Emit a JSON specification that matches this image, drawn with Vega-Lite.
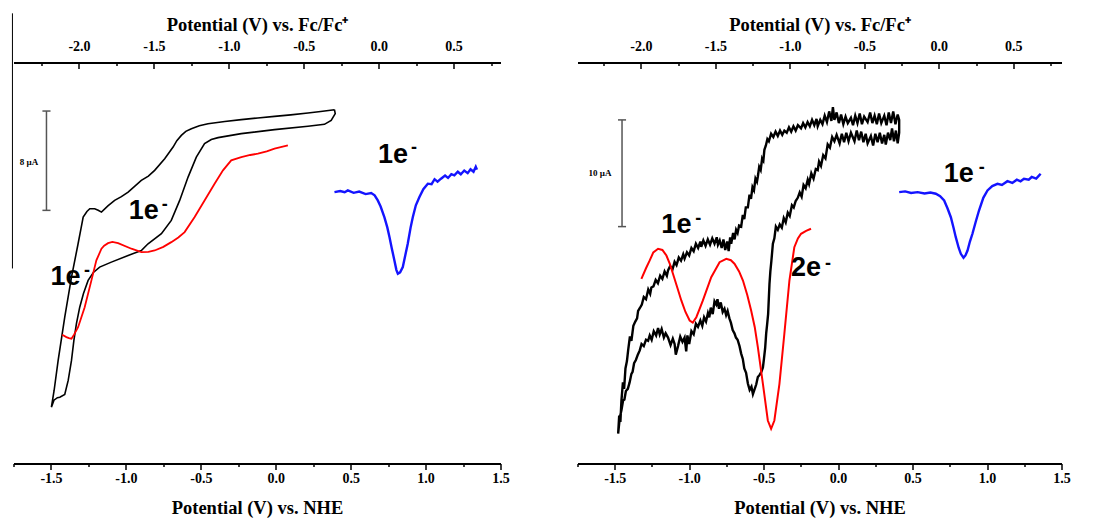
{
 "$schema": "https://vega.github.io/schema/vega-lite/v6.json",
 "padding": {"left": 10.5, "top": 12.5, "right": 5, "bottom": 0},
 "background": "white",
 "spacing": 77,
 "bounds": "flush",
 "config": {
  "view": {"stroke": null},
  "axis": {"grid": false, "domainColor": "#000", "domainWidth": 2, "tickColor": "#000", "tickWidth": 1.5, "labelFont": "Liberation Serif", "labelFontWeight": "bold", "labelFontSize": 14, "labelColor": "#000", "titleFont": "Liberation Serif", "titleFontWeight": "bold", "titleFontSize": 18.5, "titleColor": "#000", "labelFlush": false, "labelOverlap": false}
 },
 "datasets": {
  "nheMaj": [{"t": -1.5}, {"t": 1.5}],
  "nheMin": [{"t": -1.75}, {"t": 1.25}],
  "fcMaj": [{"t": -2.0}, {"t": 0.5}],
  "fcMin": [{"t": -2.25}, {"t": 0.75}],
  "vlineL": [{"v": -1.757, "i": 15.71, "i2": 36.26}],
  "barL": [{"v": -1.53, "v2": -1.53, "i": 20.39, "i2": 28.39}, {"v": -1.557, "v2": -1.503, "i": 20.39, "i2": 20.39}, {"v": -1.557, "v2": -1.503, "i": 28.39, "i2": 28.39}],
  "barTxtL": [{"v": -1.647, "i": 24.25, "t": "8 µA"}],
  "barR": [{"v": -1.451, "v2": -1.451, "i": 22.2, "i2": 32.2}, {"v": -1.478, "v2": -1.424, "i": 22.2, "i2": 22.2}, {"v": -1.478, "v2": -1.424, "i": 32.2, "i2": 32.2}],
  "barTxtR": [{"v": -1.599, "i": 27.27, "t": "10 µA"}],
  "annL": [{"v": -0.88, "i": 20.31, "t": "1e"}, {"v": -1.403, "i": 14.99, "t": "1e"}, {"v": 0.783, "i": 24.82, "t": "1e"}],
  "supL": [{"v": -0.74, "i": 20.79, "t": "-"}, {"v": -1.26, "i": 15.47, "t": "-"}, {"v": 0.923, "i": 25.38, "t": "-"}],
  "annR": [{"v": -1.086, "i": 22.31, "t": "1e"}, {"v": -0.215, "i": 18.28, "t": "2e"}, {"v": 0.81, "i": 27.09, "t": "1e"}],
  "supR": [{"v": -0.939, "i": 22.96, "t": "-"}, {"v": -0.068, "i": 18.74, "t": "-"}, {"v": 0.964, "i": 27.65, "t": "-"}],
  "cvL": [
   {"v":0.392,"i":28.50},{"v":0.30,"i":28.35},{"v":0.215,"i":28.23},{"v":0.10,"i":28.08},{"v":-0.008,"i":27.96},{"v":-0.12,"i":27.83},{"v":-0.23,"i":27.70},{"v":-0.34,"i":27.55},{"v":-0.452,"i":27.37},{"v":-0.51,"i":27.2},{"v":-0.563,"i":26.97},{"v":-0.60,"i":26.75},{"v":-0.63,"i":26.43},{"v":-0.66,"i":26.0},{"v":-0.685,"i":25.49},{"v":-0.741,"i":24.55},{"v":-0.808,"i":23.61},{"v":-0.85,"i":23.15},{"v":-0.897,"i":22.80},{"v":-0.94,"i":22.35},{"v":-0.985,"i":21.86},{"v":-1.03,"i":21.5},{"v":-1.075,"i":21.19},{"v":-1.12,"i":20.75},{"v":-1.163,"i":20.25},{"v":-1.185,"i":20.4},{"v":-1.208,"i":20.52},{"v":-1.241,"i":20.52},{"v":-1.26,"i":20.3},{"v":-1.285,"i":19.85},{"v":-1.30,"i":18.9},{"v":-1.319,"i":17.70},{"v":-1.363,"i":15.01},{"v":-1.408,"i":11.79},{"v":-1.452,"i":8.30},{"v":-1.479,"i":5.88},{"v":-1.497,"i":4.54},
   {"v":-1.48,"i":5.1},{"v":-1.457,"i":5.3},{"v":-1.441,"i":5.34},{"v":-1.408,"i":5.56},{"v":-1.385,"i":6.69},{"v":-1.363,"i":8.30},{"v":-1.347,"i":9.91},{"v":-1.33,"i":11.26},{"v":-1.308,"i":12.59},{"v":-1.283,"i":13.70},{"v":-1.252,"i":14.75},{"v":-1.217,"i":15.39},{"v":-1.175,"i":15.82},{"v":-1.097,"i":16.22},{"v":-0.985,"i":16.76},{"v":-0.897,"i":17.16},{"v":-0.852,"i":17.70},{"v":-0.763,"i":18.51},{"v":-0.697,"i":19.58},{"v":-0.641,"i":21.19},{"v":-0.585,"i":23.07},{"v":-0.53,"i":24.68},{"v":-0.475,"i":25.76},{"v":-0.43,"i":26.1},{"v":-0.385,"i":26.25},{"v":-0.23,"i":26.57},{"v":-0.008,"i":26.89},{"v":0.215,"i":27.16},{"v":0.325,"i":27.32},{"v":0.37,"i":27.64},{"v":0.397,"i":28.18},{"v":0.392,"i":28.50}
  ],
  "redL": [
   {"v":0.081,"i":25.62},{"v":0.04,"i":25.5},{"v":-0.008,"i":25.36},{"v":-0.06,"i":25.15},{"v":-0.119,"i":24.96},{"v":-0.17,"i":24.85},{"v":-0.23,"i":24.68},{"v":-0.297,"i":24.42},{"v":-0.352,"i":23.61},{"v":-0.408,"i":22.54},{"v":-0.475,"i":21.19},{"v":-0.541,"i":19.85},{"v":-0.608,"i":18.64},{"v":-0.65,"i":18.2},{"v":-0.697,"i":17.83},{"v":-0.75,"i":17.45},{"v":-0.808,"i":17.16},{"v":-0.85,"i":17.05},{"v":-0.897,"i":17.03},{"v":-0.963,"i":17.30},{"v":-1.052,"i":17.75},{"v":-1.09,"i":17.85},{"v":-1.119,"i":17.75},{"v":-1.145,"i":17.55},{"v":-1.163,"i":17.30},{"v":-1.197,"i":16.36},{"v":-1.23,"i":14.75},{"v":-1.275,"i":12.59},{"v":-1.319,"i":10.98},{"v":-1.345,"i":10.4},{"v":-1.363,"i":10.05},{"v":-1.38,"i":10.1},{"v":-1.397,"i":10.18},{"v":-1.425,"i":10.37}
  ],
  "blueL": [
   {"v":0.392,"i":21.86},{"v":0.43,"i":21.95},{"v":0.46,"i":21.85},{"v":0.481,"i":22.0},{"v":0.52,"i":21.8},{"v":0.557,"i":21.9},{"v":0.60,"i":21.7},{"v":0.637,"i":21.78},{"v":0.66,"i":21.6},{"v":0.681,"i":21.19},{"v":0.70,"i":20.7},{"v":0.725,"i":19.85},{"v":0.745,"i":19.0},{"v":0.759,"i":18.24},{"v":0.775,"i":17.3},{"v":0.792,"i":16.36},{"v":0.805,"i":15.6},{"v":0.815,"i":15.29},{"v":0.83,"i":15.4},{"v":0.848,"i":15.82},{"v":0.865,"i":16.8},{"v":0.881,"i":17.70},{"v":0.90,"i":19.0},{"v":0.915,"i":19.85},{"v":0.935,"i":20.8},{"v":0.959,"i":21.46},{"v":0.985,"i":22.1},{"v":1.015,"i":22.54},{"v":1.04,"i":22.5},{"v":1.06,"i":22.9},{"v":1.08,"i":22.7},{"v":1.103,"i":22.94},{"v":1.13,"i":23.2},{"v":1.15,"i":23.0},{"v":1.172,"i":23.3},{"v":1.192,"i":23.21},{"v":1.215,"i":23.5},{"v":1.235,"i":23.3},{"v":1.258,"i":23.6},{"v":1.281,"i":23.39},{"v":1.30,"i":23.7},{"v":1.32,"i":23.5},{"v":1.335,"i":23.9},{"v":1.343,"i":23.67}
  ],
  "cvR": [
   {"v":-1.477,"i":2.8},{"v":-1.470,"i":4.5},{"v":-1.462,"i":3.9},{"v":-1.455,"i":5.9},{"v":-1.445,"i":7.6},{"v":-1.437,"i":7.0},{"v":-1.428,"i":8.9},{"v":-1.418,"i":9.6},{"v":-1.41,"i":10.6},{"v":-1.398,"i":11.9},{"v":-1.388,"i":11.5},{"v":-1.375,"i":12.9},{"v":-1.362,"i":13.3},{"v":-1.350,"i":13.6},{"v":-1.343,"i":14.3},{"v":-1.330,"i":14.6},{"v":-1.318,"i":14.9},{"v":-1.305,"i":15.6},{"v":-1.290,"i":15.4},{"v":-1.275,"i":16.3},{"v":-1.262,"i":15.9},{"v":-1.254,"i":16.5},{"v":-1.240,"i":16.6},{"v":-1.225,"i":17.2},{"v":-1.210,"i":16.9},{"v":-1.195,"i":17.6},{"v":-1.180,"i":17.3},{"v":-1.165,"i":18.0},{"v":-1.150,"i":17.6},{"v":-1.142,"i":18.1},{"v":-1.128,"i":18.5},{"v":-1.112,"i":18.2},{"v":-1.098,"i":18.9},{"v":-1.085,"i":18.6},{"v":-1.070,"i":19.3},{"v":-1.055,"i":19.0},{"v":-1.040,"i":19.6},{"v":-1.031,"i":19.2},{"v":-1.015,"i":19.8},{"v":-1.000,"i":19.5},{"v":-0.985,"i":20.2},{"v":-0.970,"i":19.9},{"v":-0.955,"i":20.6},{"v":-0.940,"i":20.2},{"v":-0.925,"i":20.8},{"v":-0.919,"i":20.3},{"v":-0.905,"i":20.9},{"v":-0.890,"i":20.4},{"v":-0.875,"i":21.0},{"v":-0.860,"i":20.5},{"v":-0.845,"i":21.1},{"v":-0.830,"i":20.6},{"v":-0.815,"i":21.2},{"v":-0.807,"i":20.5},{"v":-0.795,"i":20.9},{"v":-0.782,"i":20.2},{"v":-0.770,"i":21.0},{"v":-0.758,"i":20.0},{"v":-0.745,"i":20.8},{"v":-0.735,"i":19.9},{"v":-0.725,"i":21.2},{"v":-0.718,"i":20.6},{"v":-0.705,"i":21.6},{"v":-0.695,"i":21.0},{"v":-0.685,"i":21.9},{"v":-0.675,"i":21.6},{"v":-0.665,"i":22.3},{"v":-0.651,"i":22.2},{"v":-0.640,"i":23.3},{"v":-0.630,"i":22.9},{"v":-0.620,"i":24.0},{"v":-0.606,"i":24.0},{"v":-0.595,"i":25.2},{"v":-0.585,"i":24.8},{"v":-0.575,"i":25.9},{"v":-0.565,"i":25.6},{"v":-0.555,"i":26.7},{"v":-0.545,"i":26.4},{"v":-0.539,"i":26.9},{"v":-0.530,"i":27.8},{"v":-0.520,"i":27.5},{"v":-0.510,"i":28.6},{"v":-0.502,"i":28.4},{"v":-0.495,"i":29.4},{"v":-0.485,"i":29.8},{"v":-0.475,"i":30.4},{"v":-0.465,"i":30.2},{"v":-0.450,"i":30.9},{"v":-0.435,"i":30.6},{"v":-0.420,"i":31.1},{"v":-0.405,"i":30.7},{"v":-0.390,"i":31.2},{"v":-0.375,"i":30.8},{"v":-0.361,"i":31.2},{"v":-0.345,"i":31.0},{"v":-0.330,"i":31.5},{"v":-0.315,"i":31.1},{"v":-0.300,"i":31.6},{"v":-0.285,"i":31.2},{"v":-0.270,"i":31.7},{"v":-0.249,"i":31.4},{"v":-0.235,"i":31.9},{"v":-0.220,"i":31.5},{"v":-0.205,"i":32.0},{"v":-0.190,"i":31.6},{"v":-0.175,"i":32.2},{"v":-0.160,"i":31.7},{"v":-0.145,"i":32.3},{"v":-0.137,"i":31.6},{"v":-0.120,"i":32.2},{"v":-0.105,"i":31.8},{"v":-0.090,"i":32.6},{"v":-0.075,"i":32.0},{"v":-0.060,"i":33.0},{"v":-0.045,"i":32.1},{"v":-0.035,"i":33.4},{"v":-0.025,"i":32.2},{"v":-0.010,"i":32.9},{"v":0.005,"i":31.9},{"v":0.020,"i":32.7},{"v":0.035,"i":31.8},{"v":0.050,"i":32.5},{"v":0.065,"i":31.9},{"v":0.086,"i":32.4},{"v":0.100,"i":31.7},{"v":0.115,"i":32.6},{"v":0.130,"i":31.9},{"v":0.145,"i":32.8},{"v":0.160,"i":31.8},{"v":0.175,"i":32.5},{"v":0.198,"i":32.0},{"v":0.215,"i":32.9},{"v":0.230,"i":31.9},{"v":0.245,"i":32.6},{"v":0.260,"i":31.8},{"v":0.275,"i":32.8},{"v":0.290,"i":31.9},{"v":0.310,"i":32.6},{"v":0.325,"i":31.7},{"v":0.340,"i":32.9},{"v":0.355,"i":31.9},{"v":0.370,"i":33.0},{"v":0.385,"i":31.8},{"v":0.400,"i":32.7},{"v":0.410,"i":32.2},
   {"v":0.41,"i":31.0},{"v":0.400,"i":30.0},{"v":0.388,"i":31.2},{"v":0.375,"i":30.2},{"v":0.362,"i":31.4},{"v":0.350,"i":30.3},{"v":0.335,"i":31.0},{"v":0.320,"i":29.9},{"v":0.310,"i":30.8},{"v":0.295,"i":30.0},{"v":0.280,"i":31.0},{"v":0.265,"i":30.1},{"v":0.250,"i":30.9},{"v":0.235,"i":29.8},{"v":0.220,"i":30.7},{"v":0.198,"i":30.0},{"v":0.185,"i":30.9},{"v":0.170,"i":30.1},{"v":0.155,"i":31.1},{"v":0.140,"i":30.3},{"v":0.125,"i":31.2},{"v":0.110,"i":30.2},{"v":0.086,"i":31.0},{"v":0.070,"i":30.2},{"v":0.055,"i":31.0},{"v":0.040,"i":30.1},{"v":0.025,"i":30.9},{"v":0.010,"i":30.0},{"v":-0.010,"i":30.8},{"v":-0.025,"i":30.2},{"v":-0.040,"i":30.6},{"v":-0.055,"i":29.6},{"v":-0.070,"i":29.9},{"v":-0.085,"i":28.6},{"v":-0.100,"i":28.9},{"v":-0.115,"i":27.9},{"v":-0.128,"i":28.3},{"v":-0.137,"i":27.5},{"v":-0.150,"i":27.6},{"v":-0.165,"i":26.7},{"v":-0.180,"i":27.2},{"v":-0.195,"i":26.2},{"v":-0.204,"i":26.6},{"v":-0.218,"i":25.8},{"v":-0.232,"i":26.1},{"v":-0.245,"i":25.0},{"v":-0.258,"i":25.4},{"v":-0.271,"i":24.9},{"v":-0.285,"i":24.6},{"v":-0.298,"i":24.0},{"v":-0.310,"i":24.2},{"v":-0.325,"i":23.2},{"v":-0.338,"i":23.5},{"v":-0.352,"i":22.6},{"v":-0.365,"i":23.0},{"v":-0.378,"i":22.1},{"v":-0.392,"i":22.4},{"v":-0.405,"i":21.9},{"v":-0.418,"i":22.2},{"v":-0.428,"i":21.1},{"v":-0.438,"i":20.6},{"v":-0.448,"i":19.0},{"v":-0.455,"i":18.0},{"v":-0.461,"i":16.8},{"v":-0.470,"i":14.0},{"v":-0.477,"i":13.0},{"v":-0.483,"i":12.2},{"v":-0.490,"i":10.8},{"v":-0.498,"i":9.8},{"v":-0.505,"i":9.0},{"v":-0.515,"i":8.6},{"v":-0.527,"i":8.3},{"v":-0.539,"i":8.1},{"v":-0.550,"i":7.4},{"v":-0.560,"i":7.0},{"v":-0.572,"i":6.5},{"v":-0.582,"i":7.2},{"v":-0.594,"i":6.9},{"v":-0.606,"i":7.5},{"v":-0.618,"i":8.5},{"v":-0.630,"i":8.9},{"v":-0.640,"i":9.8},{"v":-0.651,"i":10.3},{"v":-0.662,"i":11.0},{"v":-0.675,"i":11.6},{"v":-0.686,"i":11.8},{"v":-0.696,"i":12.2},{"v":-0.708,"i":12.5},{"v":-0.720,"i":13.2},{"v":-0.730,"i":13.6},{"v":-0.742,"i":14.3},{"v":-0.752,"i":13.9},{"v":-0.763,"i":14.5},{"v":-0.775,"i":14.2},{"v":-0.788,"i":15.1},{"v":-0.800,"i":14.5},{"v":-0.810,"i":15.4},{"v":-0.818,"i":14.9},{"v":-0.830,"i":15.2},{"v":-0.842,"i":14.0},{"v":-0.855,"i":14.6},{"v":-0.865,"i":13.7},{"v":-0.874,"i":14.1},{"v":-0.887,"i":13.3},{"v":-0.900,"i":13.7},{"v":-0.912,"i":12.9},{"v":-0.925,"i":13.4},{"v":-0.941,"i":12.8},{"v":-0.955,"i":13.1},{"v":-0.970,"i":12.1},{"v":-0.985,"i":12.4},{"v":-1.000,"i":11.2},{"v":-1.012,"i":12.0},{"v":-1.020,"i":10.5},{"v":-1.031,"i":11.8},{"v":-1.045,"i":11.4},{"v":-1.060,"i":11.9},{"v":-1.075,"i":11.0},{"v":-1.090,"i":10.2},{"v":-1.098,"i":11.2},{"v":-1.110,"i":11.7},{"v":-1.125,"i":11.1},{"v":-1.142,"i":11.8},{"v":-1.158,"i":12.2},{"v":-1.170,"i":11.8},{"v":-1.185,"i":12.6},{"v":-1.198,"i":12.1},{"v":-1.209,"i":12.7},{"v":-1.222,"i":12.0},{"v":-1.238,"i":12.4},{"v":-1.252,"i":11.6},{"v":-1.265,"i":12.0},{"v":-1.276,"i":11.5},{"v":-1.290,"i":11.6},{"v":-1.305,"i":11.0},{"v":-1.320,"i":11.2},{"v":-1.332,"i":10.6},{"v":-1.345,"i":10.2},{"v":-1.358,"i":9.7},{"v":-1.370,"i":9.4},{"v":-1.380,"i":8.6},{"v":-1.388,"i":8.4},{"v":-1.400,"i":7.6},{"v":-1.412,"i":7.0},{"v":-1.425,"i":6.8},{"v":-1.435,"i":6.0},{"v":-1.444,"i":5.9},{"v":-1.455,"i":5.0},{"v":-1.466,"i":4.3},{"v":-1.472,"i":3.5},{"v":-1.477,"i":2.8}
  ],
  "redR": [
   {"v":-1.321,"i":17.31},{"v":-1.29,"i":18.3},{"v":-1.265,"i":19.03},{"v":-1.241,"i":19.78},{"v":-1.209,"i":20.12},{"v":-1.18,"i":20.01},{"v":-1.153,"i":19.49},{"v":-1.13,"i":18.7},{"v":-1.109,"i":17.78},{"v":-1.08,"i":16.5},{"v":-1.053,"i":15.28},{"v":-1.025,"i":14.2},{"v":-0.997,"i":13.40},{"v":-0.976,"i":13.21},{"v":-0.952,"i":13.71},{"v":-0.93,"i":14.5},{"v":-0.908,"i":15.28},{"v":-0.852,"i":17.46},{"v":-0.796,"i":18.87},{"v":-0.751,"i":19.18},{"v":-0.72,"i":19.05},{"v":-0.696,"i":18.72},{"v":-0.665,"i":18.0},{"v":-0.639,"i":17.15},{"v":-0.61,"i":15.8},{"v":-0.584,"i":14.34},{"v":-0.56,"i":12.8},{"v":-0.539,"i":10.90},{"v":-0.505,"i":7.47},{"v":-0.472,"i":4.03},{"v":-0.45,"i":3.25},{"v":-0.428,"i":4.03},{"v":-0.394,"i":7.47},{"v":-0.361,"i":12.16},{"v":-0.327,"i":17.15},{"v":-0.294,"i":20.27},{"v":-0.27,"i":21.1},{"v":-0.249,"i":21.53},{"v":-0.215,"i":21.8},{"v":-0.182,"i":22.00}
  ],
  "blueR": [
   {"v":0.41,"i":25.43},{"v":0.45,"i":25.5},{"v":0.49,"i":25.35},{"v":0.534,"i":25.43},{"v":0.58,"i":25.3},{"v":0.62,"i":25.4},{"v":0.656,"i":25.28},{"v":0.685,"i":25.05},{"v":0.712,"i":24.65},{"v":0.735,"i":23.9},{"v":0.757,"i":23.08},{"v":0.775,"i":22.1},{"v":0.79,"i":21.21},{"v":0.81,"i":20.2},{"v":0.824,"i":19.65},{"v":0.842,"i":19.28},{"v":0.855,"i":19.5},{"v":0.869,"i":19.96},{"v":0.885,"i":20.8},{"v":0.902,"i":21.53},{"v":0.925,"i":22.7},{"v":0.946,"i":23.71},{"v":0.975,"i":24.9},{"v":1.003,"i":25.59},{"v":1.035,"i":26.0},{"v":1.07,"i":26.21},{"v":1.10,"i":26.1},{"v":1.137,"i":26.46},{"v":1.17,"i":26.3},{"v":1.20,"i":26.6},{"v":1.225,"i":26.45},{"v":1.248,"i":26.68},{"v":1.28,"i":26.6},{"v":1.30,"i":26.85},{"v":1.33,"i":26.7},{"v":1.35,"i":27.0},{"v":1.36,"i":27.15}
  ]
 },
 "hconcat": [
  {
   "width": 487, "height": 401,
   "resolve": {"scale": {"x": "independent"}},
   "layer": [
    {"layer": [
     {"data": {"name": "vlineL"}, "mark": {"type": "rule", "color": "#000", "strokeWidth": 1},
      "encoding": {"x": {"field": "v", "type": "quantitative", "scale": {"domain": [-1.75, 1.5], "nice": false, "zero": false}, "axis": null},
       "y": {"field": "i", "type": "quantitative", "scale": {"domain": [0, 32.3], "nice": false, "zero": false}, "axis": null}, "y2": {"field": "i2"}}},
     {"data": {"name": "barL"}, "mark": {"type": "rule", "color": "#555", "strokeWidth": 1.5},
      "encoding": {"x": {"field": "v", "type": "quantitative", "scale": {"domain": [-1.75, 1.5], "nice": false, "zero": false}, "axis": null}, "x2": {"field": "v2"},
       "y": {"field": "i", "type": "quantitative", "scale": {"domain": [0, 32.3], "nice": false, "zero": false}, "axis": null}, "y2": {"field": "i2"}}},
     {"data": {"name": "barTxtL"}, "mark": {"type": "text", "font": "Liberation Serif", "fontWeight": "bold", "fontSize": 9, "color": "#000", "align": "center", "baseline": "middle"},
      "encoding": {"x": {"field": "v", "type": "quantitative", "scale": {"domain": [-1.75, 1.5], "nice": false, "zero": false}, "axis": null},
       "y": {"field": "i", "type": "quantitative", "scale": {"domain": [0, 32.3], "nice": false, "zero": false}, "axis": null}, "text": {"field": "t"}}},
     {"data": {"name": "cvL"}, "mark": {"type": "line", "color": "#000", "strokeWidth": 1.6},
      "encoding": {"x": {"field": "v", "type": "quantitative", "scale": {"domain": [-1.75, 1.5], "nice": false, "zero": false}, "axis": null},
       "y": {"field": "i", "type": "quantitative", "scale": {"domain": [0, 32.3], "nice": false, "zero": false}, "axis": null}, "order": {"value": null}}},
     {"data": {"name": "redL"}, "mark": {"type": "line", "color": "#ff0000", "strokeWidth": 1.8},
      "encoding": {"x": {"field": "v", "type": "quantitative", "scale": {"domain": [-1.75, 1.5], "nice": false, "zero": false}, "axis": null},
       "y": {"field": "i", "type": "quantitative", "scale": {"domain": [0, 32.3], "nice": false, "zero": false}, "axis": null}, "order": {"value": null}}},
     {"data": {"name": "blueL"}, "mark": {"type": "line", "color": "#1414ff", "strokeWidth": 2.4},
      "encoding": {"x": {"field": "v", "type": "quantitative", "scale": {"domain": [-1.75, 1.5], "nice": false, "zero": false}, "axis": null},
       "y": {"field": "i", "type": "quantitative", "scale": {"domain": [0, 32.3], "nice": false, "zero": false}, "axis": null}, "order": {"value": null}}},
     {"data": {"name": "annL"}, "mark": {"type": "text", "font": "Liberation Sans", "fontWeight": "bold", "fontSize": 27, "color": "#000", "align": "center", "baseline": "middle"},
      "encoding": {"x": {"field": "v", "type": "quantitative", "scale": {"domain": [-1.75, 1.5], "nice": false, "zero": false}, "axis": null},
       "y": {"field": "i", "type": "quantitative", "scale": {"domain": [0, 32.3], "nice": false, "zero": false}, "axis": null}, "text": {"field": "t"}}},
     {"data": {"name": "supL"}, "mark": {"type": "text", "font": "Liberation Sans", "fontWeight": "bold", "fontSize": 18, "color": "#000", "align": "center", "baseline": "middle"},
      "encoding": {"x": {"field": "v", "type": "quantitative", "scale": {"domain": [-1.75, 1.5], "nice": false, "zero": false}, "axis": null},
       "y": {"field": "i", "type": "quantitative", "scale": {"domain": [0, 32.3], "nice": false, "zero": false}, "axis": null}, "text": {"field": "t"}}}
    ]},
    {"data": {"name": "nheMaj"}, "mark": {"type": "point", "opacity": 0},
     "encoding": {"x": {"field": "t", "type": "quantitative", "scale": {"domain": [-1.75, 1.5], "nice": false, "zero": false},
      "axis": {"orient": "bottom", "title": "Potential (V) vs. NHE", "values": [-1.5, -1, -0.5, 0, 0.5, 1, 1.5], "format": ".1f", "labelExpr": "replace(datum.label, '−', '-')", "tickSize": 6, "labelPadding": 1.5, "titlePadding": 13.5}}}},
    {"data": {"name": "nheMin"}, "mark": {"type": "point", "opacity": 0},
     "encoding": {"x": {"field": "t", "type": "quantitative", "scale": {"domain": [-1.75, 1.5], "nice": false, "zero": false},
      "axis": {"orient": "bottom", "title": null, "values": [-1.75, -1.25, -0.75, -0.25, 0.25, 0.75, 1.25], "labels": false, "domain": false, "tickSize": 3}}}},
    {"data": {"name": "fcMaj"}, "mark": {"type": "point", "opacity": 0},
     "encoding": {"x": {"field": "t", "type": "quantitative", "scale": {"domain": [-2.437, 0.813], "nice": false, "zero": false},
      "axis": {"orient": "top", "title": "Potential (V) vs. Fc/Fc⁺", "values": [-2, -1.5, -1, -0.5, 0, 0.5], "format": ".1f", "labelExpr": "replace(datum.label, '−', '-')", "tickSize": -6, "labelPadding": 15, "titlePadding": 5}}}},
    {"data": {"name": "fcMin"}, "mark": {"type": "point", "opacity": 0},
     "encoding": {"x": {"field": "t", "type": "quantitative", "scale": {"domain": [-2.437, 0.813], "nice": false, "zero": false},
      "axis": {"orient": "top", "title": null, "values": [-2.25, -1.75, -1.25, -0.75, -0.25, 0.25, 0.75], "labels": false, "domain": false, "tickSize": -3}}}}
   ]
  },
  {
   "width": 484, "height": 401,
   "resolve": {"scale": {"x": "independent"}},
   "layer": [
    {"layer": [
     {"data": {"name": "barR"}, "mark": {"type": "rule", "color": "#555", "strokeWidth": 1.5},
      "encoding": {"x": {"field": "v", "type": "quantitative", "scale": {"domain": [-1.75, 1.5], "nice": false, "zero": false}, "axis": null}, "x2": {"field": "v2"},
       "y": {"field": "i", "type": "quantitative", "scale": {"domain": [0, 37.58], "nice": false, "zero": false}, "axis": null}, "y2": {"field": "i2"}}},
     {"data": {"name": "barTxtR"}, "mark": {"type": "text", "font": "Liberation Serif", "fontWeight": "bold", "fontSize": 9, "color": "#000", "align": "center", "baseline": "middle"},
      "encoding": {"x": {"field": "v", "type": "quantitative", "scale": {"domain": [-1.75, 1.5], "nice": false, "zero": false}, "axis": null},
       "y": {"field": "i", "type": "quantitative", "scale": {"domain": [0, 37.58], "nice": false, "zero": false}, "axis": null}, "text": {"field": "t"}}},
     {"data": {"name": "cvR"}, "mark": {"type": "line", "color": "#000", "strokeWidth": 2.4},
      "encoding": {"x": {"field": "v", "type": "quantitative", "scale": {"domain": [-1.75, 1.5], "nice": false, "zero": false}, "axis": null},
       "y": {"field": "i", "type": "quantitative", "scale": {"domain": [0, 37.58], "nice": false, "zero": false}, "axis": null}, "order": {"value": null}}},
     {"data": {"name": "redR"}, "mark": {"type": "line", "color": "#ff0000", "strokeWidth": 2},
      "encoding": {"x": {"field": "v", "type": "quantitative", "scale": {"domain": [-1.75, 1.5], "nice": false, "zero": false}, "axis": null},
       "y": {"field": "i", "type": "quantitative", "scale": {"domain": [0, 37.58], "nice": false, "zero": false}, "axis": null}, "order": {"value": null}}},
     {"data": {"name": "blueR"}, "mark": {"type": "line", "color": "#1414ff", "strokeWidth": 2.4},
      "encoding": {"x": {"field": "v", "type": "quantitative", "scale": {"domain": [-1.75, 1.5], "nice": false, "zero": false}, "axis": null},
       "y": {"field": "i", "type": "quantitative", "scale": {"domain": [0, 37.58], "nice": false, "zero": false}, "axis": null}, "order": {"value": null}}},
     {"data": {"name": "annR"}, "mark": {"type": "text", "font": "Liberation Sans", "fontWeight": "bold", "fontSize": 27, "color": "#000", "align": "center", "baseline": "middle"},
      "encoding": {"x": {"field": "v", "type": "quantitative", "scale": {"domain": [-1.75, 1.5], "nice": false, "zero": false}, "axis": null},
       "y": {"field": "i", "type": "quantitative", "scale": {"domain": [0, 37.58], "nice": false, "zero": false}, "axis": null}, "text": {"field": "t"}}},
     {"data": {"name": "supR"}, "mark": {"type": "text", "font": "Liberation Sans", "fontWeight": "bold", "fontSize": 18, "color": "#000", "align": "center", "baseline": "middle"},
      "encoding": {"x": {"field": "v", "type": "quantitative", "scale": {"domain": [-1.75, 1.5], "nice": false, "zero": false}, "axis": null},
       "y": {"field": "i", "type": "quantitative", "scale": {"domain": [0, 37.58], "nice": false, "zero": false}, "axis": null}, "text": {"field": "t"}}}
    ]},
    {"data": {"name": "nheMaj"}, "mark": {"type": "point", "opacity": 0},
     "encoding": {"x": {"field": "t", "type": "quantitative", "scale": {"domain": [-1.75, 1.5], "nice": false, "zero": false},
      "axis": {"orient": "bottom", "title": "Potential (V) vs. NHE", "values": [-1.5, -1, -0.5, 0, 0.5, 1, 1.5], "format": ".1f", "labelExpr": "replace(datum.label, '−', '-')", "tickSize": 6, "labelPadding": 1.5, "titlePadding": 13.5}}}},
    {"data": {"name": "nheMin"}, "mark": {"type": "point", "opacity": 0},
     "encoding": {"x": {"field": "t", "type": "quantitative", "scale": {"domain": [-1.75, 1.5], "nice": false, "zero": false},
      "axis": {"orient": "bottom", "title": null, "values": [-1.75, -1.25, -0.75, -0.25, 0.25, 0.75, 1.25], "labels": false, "domain": false, "tickSize": 3}}}},
    {"data": {"name": "fcMaj"}, "mark": {"type": "point", "opacity": 0},
     "encoding": {"x": {"field": "t", "type": "quantitative", "scale": {"domain": [-2.426, 0.824], "nice": false, "zero": false},
      "axis": {"orient": "top", "title": "Potential (V) vs. Fc/Fc⁺", "values": [-2, -1.5, -1, -0.5, 0, 0.5], "format": ".1f", "labelExpr": "replace(datum.label, '−', '-')", "tickSize": -6, "labelPadding": 15, "titlePadding": 5}}}},
    {"data": {"name": "fcMin"}, "mark": {"type": "point", "opacity": 0},
     "encoding": {"x": {"field": "t", "type": "quantitative", "scale": {"domain": [-2.426, 0.824], "nice": false, "zero": false},
      "axis": {"orient": "top", "title": null, "values": [-2.25, -1.75, -1.25, -0.75, -0.25, 0.25, 0.75], "labels": false, "domain": false, "tickSize": -3}}}}
   ]
  }
 ]
}
